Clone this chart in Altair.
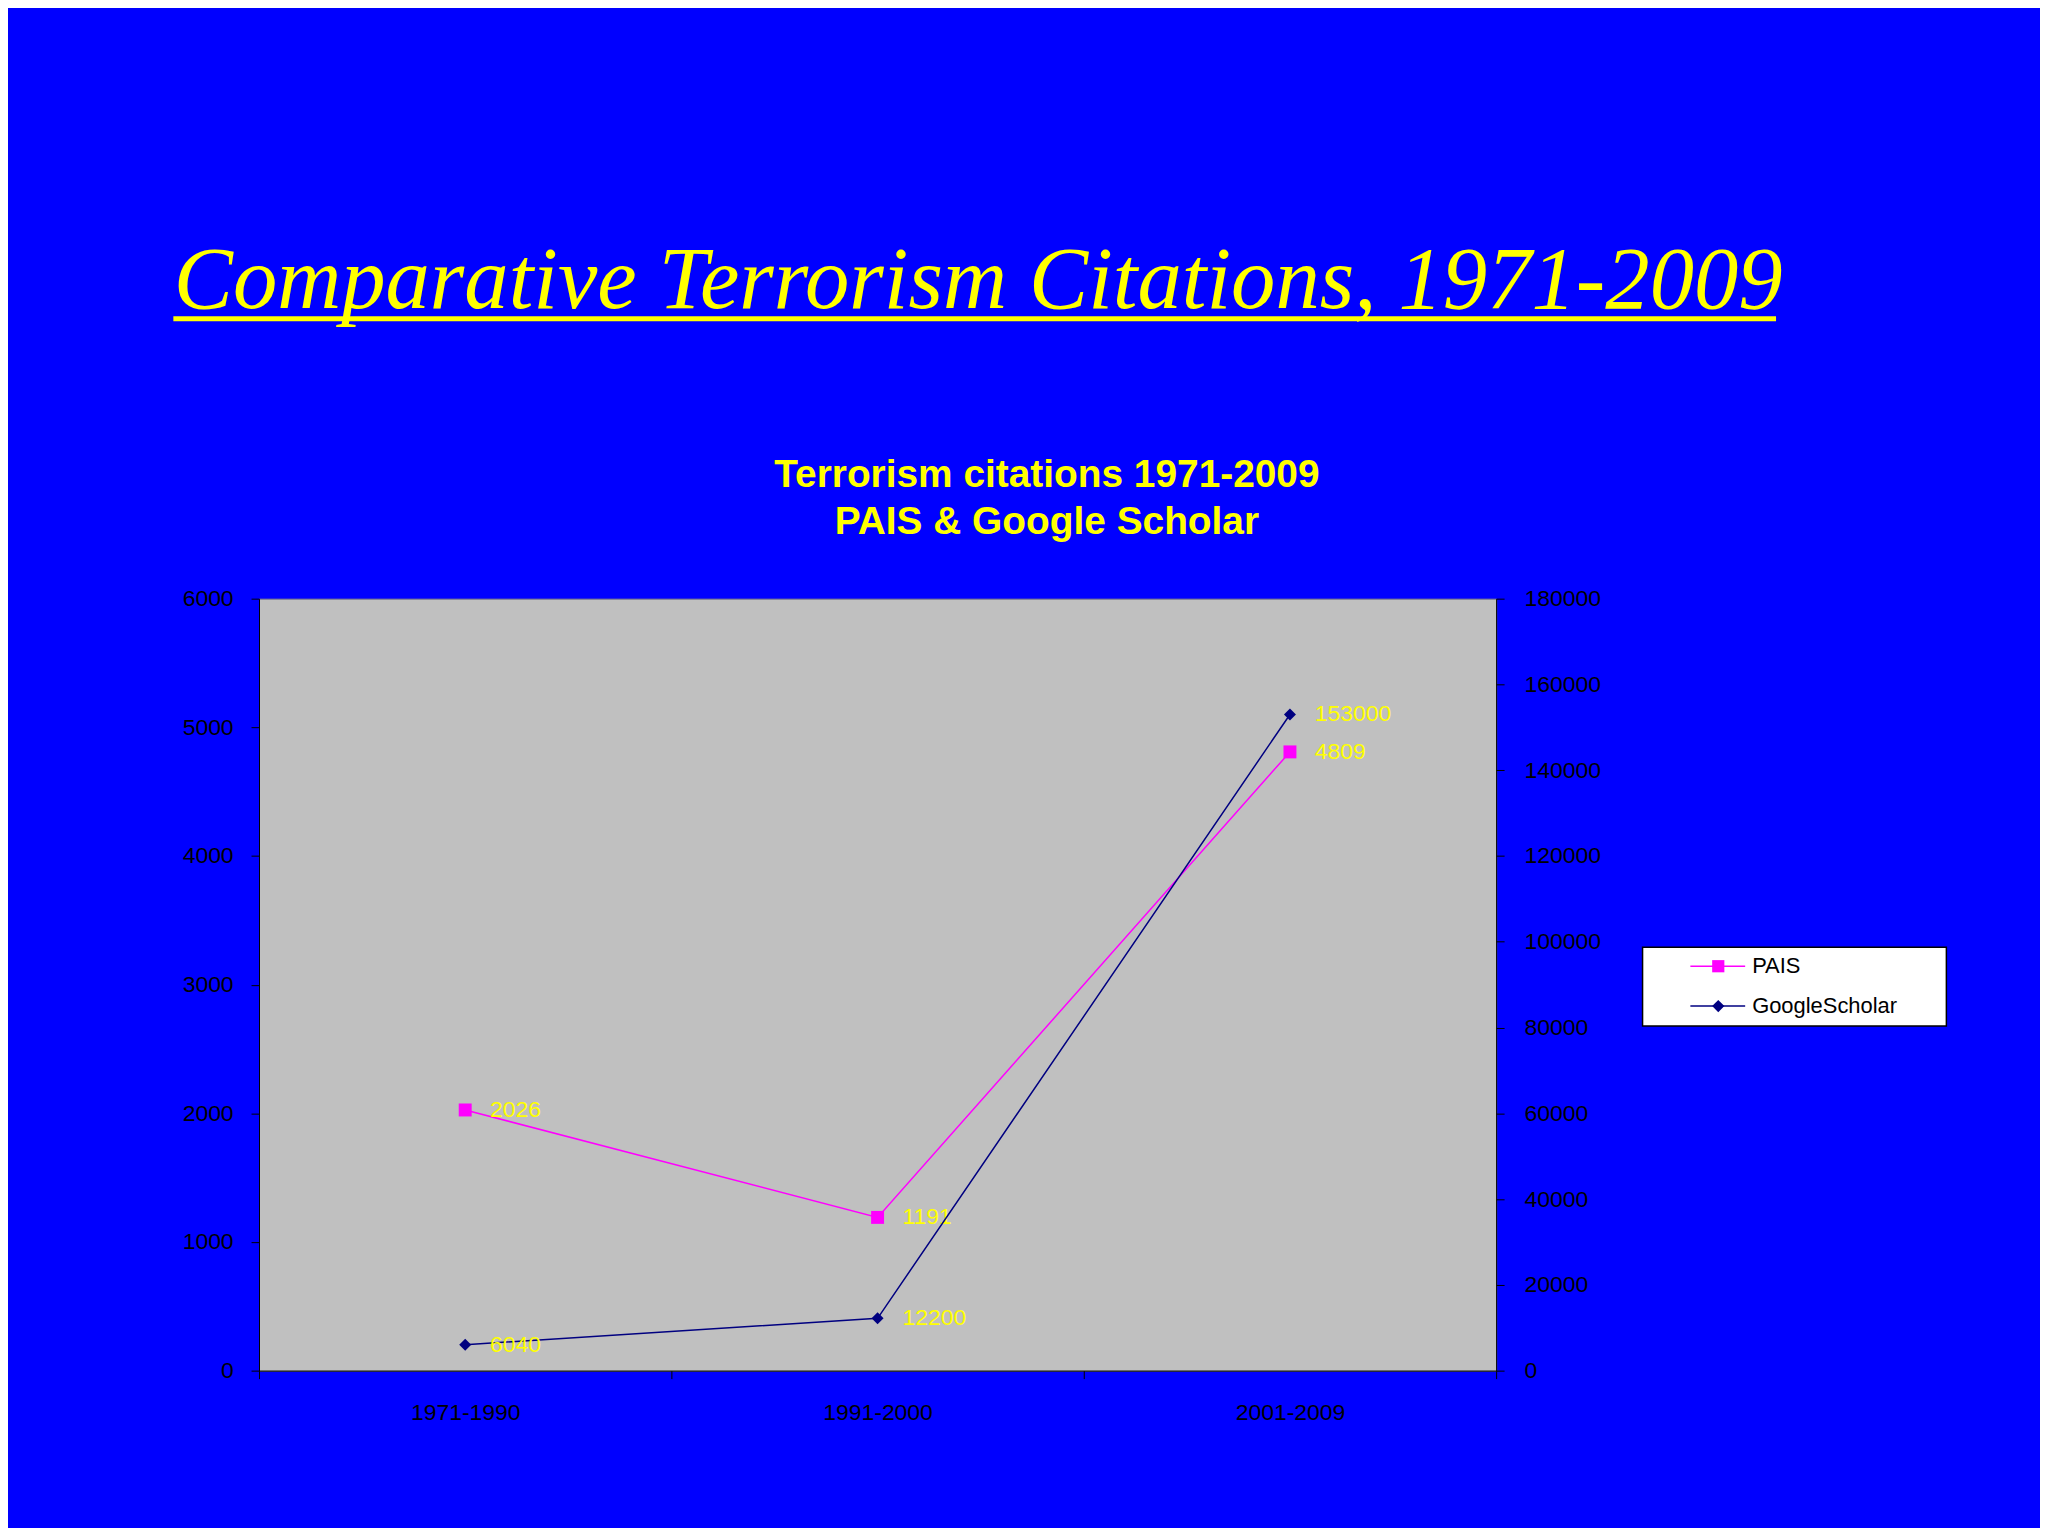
import altair as alt
import pandas as pd

# ---- data ----
periods = ["1971-1990", "1991-2000", "2001-2009"]
pais_values = [2026, 1191, 4809]
google_values = [6040, 12200, 153000]
series_names = ["PAIS", "GoogleScholar"]
left_ticks = [0, 1000, 2000, 3000, 4000, 5000, 6000]
right_ticks = [0, 20000, 40000, 60000, 80000, 100000, 120000, 140000, 160000, 180000]
slide_title = "Comparative Terrorism Citations, 1971-2009"
chart_title = ["Terrorism citations 1971-2009", "PAIS & Google Scholar"]

# ---- styles ----
MAGENTA = "#FF00FF"
NAVY = "#000080"
YELLOW = "#FFFF00"
SANS = "Liberation Sans"
SERIF = "Liberation Serif"

pais_df = pd.DataFrame({"period": periods, "value": pais_values})
google_df = pd.DataFrame({"period": periods, "value": google_values})
legend_df = pd.DataFrame({"series": series_names})
slide_df = pd.DataFrame({"t": [slide_title]})
ctitle_df = pd.DataFrame({"t": ["\n".join(chart_title)]})

xscale = alt.Scale(type="band", domain=periods, paddingInner=0, paddingOuter=0)
x_axis = alt.Axis(title=None, tickBand="extent", labelFontSize=23, labelFont=SANS,
                  labelColor="black", tickColor="black", domainColor="black",
                  tickSize=8, labelPadding=23, labelAngle=0, grid=False)


def xenc():
    return alt.X("period:N", scale=xscale, axis=x_axis, sort=periods)


left_axis = alt.Axis(orient="left", values=left_ticks, title=None, grid=False, format="d",
                     labelFontSize=23, labelFont=SANS, labelColor="black",
                     tickColor="black", domainColor="black", tickSize=8, labelPadding=18)
right_axis = alt.Axis(orient="right", values=right_ticks, title=None, grid=False, format="d",
                      labelFontSize=23, labelFont=SANS, labelColor="black",
                      tickColor="black", domainColor="black", tickSize=8, labelPadding=20)


def y_left():
    return alt.Y("value:Q", scale=alt.Scale(domain=[0, 6000], nice=False), axis=left_axis)


def y_right():
    return alt.Y("value:Q", scale=alt.Scale(domain=[0, 180000], nice=False), axis=right_axis)


label_style = dict(align="left", baseline="middle", dx=25, fontSize=23, font=SANS, color=YELLOW)

pais_layer = alt.layer(
    alt.Chart(pais_df).mark_line(color=MAGENTA, strokeWidth=1.5).encode(x=xenc(), y=y_left()),
    alt.Chart(pais_df).mark_point(shape="square", filled=True, color=MAGENTA, size=169, opacity=1)
        .encode(x=xenc(), y=y_left()),
    alt.Chart(pais_df).mark_text(**label_style)
        .encode(x=xenc(), y=y_left(), text=alt.Text("value:Q", format="d")),
)

google_layer = alt.layer(
    alt.Chart(google_df).mark_line(color=NAVY, strokeWidth=1.5).encode(x=xenc(), y=y_right()),
    alt.Chart(google_df).mark_point(shape="diamond", filled=True, color=NAVY, size=144, opacity=1)
        .encode(x=xenc(), y=y_right()),
    alt.Chart(google_df).mark_text(**label_style)
        .encode(x=xenc(), y=y_right(), text=alt.Text("value:Q", format="d")),
)

# ---- legend (boxed key at the right of the plot) ----
yleg = alt.Y("series:N", scale=alt.Scale(type="point", domain=series_names, range=[369, 409], padding=0),
             axis=None)
cleg = alt.Color("series:N", scale=alt.Scale(domain=series_names, range=[MAGENTA, NAVY]), legend=None)
sleg = alt.Shape("series:N", scale=alt.Scale(domain=series_names, range=["square", "diamond"]), legend=None)

legend_layer = alt.layer(
    alt.Chart(slide_df).mark_rect(fill="white", stroke="black", strokeWidth=1.5)
        .encode(x=alt.value(1389), x2=alt.value(1694), y=alt.value(350), y2=alt.value(429)),
    alt.Chart(legend_df).mark_rule(strokeWidth=1.5)
        .encode(x=alt.value(1437), x2=alt.value(1492), y=yleg, color=cleg),
    alt.Chart(legend_df).mark_point(filled=True, size=150, opacity=1)
        .encode(x=alt.value(1465), y=yleg, color=cleg, shape=sleg),
    alt.Chart(legend_df).mark_text(align="left", baseline="middle", fontSize=22, font=SANS, color="black")
        .encode(x=alt.value(1499), y=yleg, text="series:N"),
)

# ---- titles ----
slide_title_layer = alt.layer(
    alt.Chart(slide_df).mark_text(align="center", baseline="alphabetic", fontSize=89, font=SERIF,
                                  fontStyle="italic", color=YELLOW)
        .encode(x=alt.value(722), y=alt.value(-292), text="t:N"),
    alt.Chart(slide_df).mark_rule(color=YELLOW, strokeWidth=5)
        .encode(x=alt.value(-86), x2=alt.value(1523), y=alt.value(-281)),
)

chart_title_layer = alt.Chart(ctitle_df).mark_text(
    align="center", baseline="middle", fontSize=39, font=SANS, fontWeight="bold",
    color=YELLOW, lineBreak="\n", lineHeight=47
).encode(x=alt.value(791), y=alt.value(-124), text="t:N")

chart = alt.layer(
    pais_layer, google_layer, legend_layer, slide_title_layer, chart_title_layer
).resolve_scale(
    y="independent"
).properties(
    width=1242,
    height=775,
    autosize=alt.AutoSizeParams(type="none"),
    padding={"left": 252, "top": 590, "right": 546, "bottom": 155},
    background="#0000FF",
).configure_view(
    fill="#C0C0C0",
    stroke="#808080",
    strokeWidth=1,
)

chart.save("out.html", embed_options={"renderer": "svg", "actions": False})
